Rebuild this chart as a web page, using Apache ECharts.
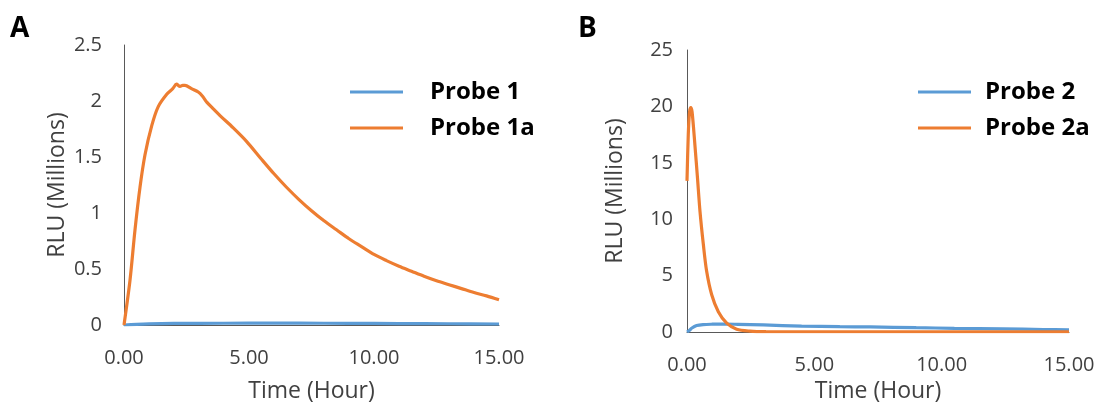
<!DOCTYPE html>
<html>
<head>
<meta charset="utf-8">
<script src="https://cdn.jsdelivr.net/npm/echarts@6/dist/echarts.min.js"></script>
<style>
html,body{margin:0;padding:0;background:#fff;}
#c{width:1101px;height:405px;}
</style>
</head>
<body>
<div id="c"></div>
<script>
// ---- Data (hours, RLU in millions) ----
const xTicks = [0, 5, 10, 15];
const yTicksA = [0, 0.5, 1, 1.5, 2, 2.5];
const yTicksB = [0, 5, 10, 15, 20, 25];

const timeP1 = [0, 0.5, 1, 2, 3, 5, 7, 9, 11, 13, 15];
const valP1  = [0, 0.006, 0.01, 0.014, 0.015, 0.016, 0.016, 0.015, 0.013, 0.011, 0.009];

const timeP1a = [0, 0.24, 0.44, 0.64, 0.84, 1.11, 1.37, 1.71, 1.95, 2.10, 2.24, 2.35, 2.44, 2.70, 2.97, 3.15, 3.31, 3.57, 3.84, 4.37, 4.90,
                 5.5, 6.0, 6.5, 7.0, 7.5, 8.0, 8.5, 9.0, 9.5, 10.0, 10.5, 11.0, 11.5, 12.0, 12.5, 13.0, 13.5, 14.0, 14.5, 15.0];
const valP1a  = [0, 0.40, 0.85, 1.23, 1.52, 1.78, 1.95, 2.06, 2.11, 2.15, 2.13, 2.14, 2.14, 2.11, 2.08, 2.04, 1.99, 1.93, 1.87, 1.76, 1.64,
                 1.48, 1.35, 1.23, 1.12, 1.02, 0.93, 0.85, 0.77, 0.70, 0.63, 0.575, 0.525, 0.48, 0.435, 0.395, 0.36, 0.325, 0.29, 0.26, 0.225];

const timeP2 = [0, 0.1, 0.18, 0.38, 0.63, 1.0, 1.5, 2.0, 3.0, 4.5, 6.0, 7.2, 9.0, 10.5, 12.4, 14.0, 15.0];
const valP2  = [0, 0.15, 0.33, 0.57, 0.66, 0.69, 0.70, 0.68, 0.63, 0.52, 0.47, 0.45, 0.38, 0.33, 0.28, 0.22, 0.19];

const timeP2a = [0, 0.05, 0.10, 0.15, 0.20, 0.31, 0.41, 0.51, 0.64, 0.77, 0.97, 1.23, 1.56, 1.95, 2.47, 3.1, 5, 10, 15];
const valP2a  = [13.4, 17.5, 19.5, 19.9, 19.5, 16.6, 13.7, 10.7, 7.8, 5.4, 3.3, 1.8, 0.78, 0.25, 0.08, 0.03, 0.02, 0.02, 0.02];

const seriesNames = ['Probe 1', 'Probe 1a', 'Probe 2', 'Probe 2a'];
const colors = { blue: '#5B9BD5', orange: '#ED7D31' };

function pairs(t, v) { return t.map((x, i) => [x, v[i]]); }

const FONT = 'Open Sans';
const tickColor = '#404040';
const axisColor = '#595959';

function xAxis(gridIndex, nameGap) {
  return {
    type: 'value', gridIndex, min: xTicks[0], max: xTicks[xTicks.length - 1], interval: xTicks[1] - xTicks[0],
    name: 'Time (Hour)', nameLocation: 'middle', nameGap,
    nameTextStyle: { fontFamily: FONT, fontSize: 23, color: tickColor },
    axisLine: { show: true, lineStyle: { color: axisColor, width: 1 } },
    axisTick: { show: false }, splitLine: { show: false },
    axisLabel: { fontFamily: FONT, fontSize: 20, color: tickColor, margin: 23, formatter: v => v.toFixed(2) }
  };
}
function yAxis(gridIndex, ticks, nameGap, margin) {
  return {
    type: 'value', gridIndex, min: ticks[0], max: ticks[ticks.length - 1], interval: ticks[1] - ticks[0],
    name: 'RLU (Millions)', nameLocation: 'middle', nameGap,
    nameTextStyle: { fontFamily: FONT, fontSize: 23, color: tickColor },
    axisLine: { show: true, lineStyle: { color: axisColor, width: 1 } },
    axisTick: { show: false }, splitLine: { show: false },
    axisLabel: { fontFamily: FONT, fontSize: 20, color: tickColor, margin }
  };
}
function lineSeries(name, xi, data, color) {
  return {
    type: 'line', name, xAxisIndex: xi, yAxisIndex: xi, data, smooth: 0.3,
    showSymbol: false, symbol: 'none', animation: false,
    lineStyle: { color, width: 3.2 }, itemStyle: { color }
  };
}
function legend(names, left, padLeft) {
  return {
    data: names, orient: 'vertical', left, top: 75, itemGap: 12,
    icon: 'rect', itemWidth: 53, itemHeight: 3,
    textStyle: { fontFamily: FONT, fontWeight: 'bold', fontSize: 24, color: '#000', lineHeight: 24, padding: [0, 0, 0, padLeft] },
    selectedMode: false
  };
}

const chart = echarts.init(document.getElementById('c'), null, { renderer: 'canvas' });
chart.setOption({
  backgroundColor: '#fff',
  animation: false,
  grid: [
    { left: 124, top: 45, width: 375, height: 280, outerBoundsMode: 'none' },
    { left: 687, top: 50, width: 382, height: 282, outerBoundsMode: 'none' }
  ],
  xAxis: [xAxis(0, 55), xAxis(1, 48)],
  yAxis: [yAxis(0, yTicksA, 55, 22), yAxis(1, yTicksB, 60, 14)],
  legend: [legend([seriesNames[0], seriesNames[1]], 345, 22), legend([seriesNames[2], seriesNames[3]], 913, 9)],
  graphic: [
    { type: 'text', left: 10, top: 15, style: { text: 'A', fontFamily: FONT, fontWeight: 'bold', fontSize: 28, fill: '#000' } },
    { type: 'text', left: 578, top: 15, style: { text: 'B', fontFamily: FONT, fontWeight: 'bold', fontSize: 28, fill: '#000' } }
  ],
  series: [
    lineSeries(seriesNames[0], 0, pairs(timeP1, valP1), colors.blue),
    lineSeries(seriesNames[1], 0, pairs(timeP1a, valP1a), colors.orange),
    lineSeries(seriesNames[2], 1, pairs(timeP2, valP2), colors.blue),
    lineSeries(seriesNames[3], 1, pairs(timeP2a, valP2a), colors.orange)
  ]
});
</script>
</body>
</html>
